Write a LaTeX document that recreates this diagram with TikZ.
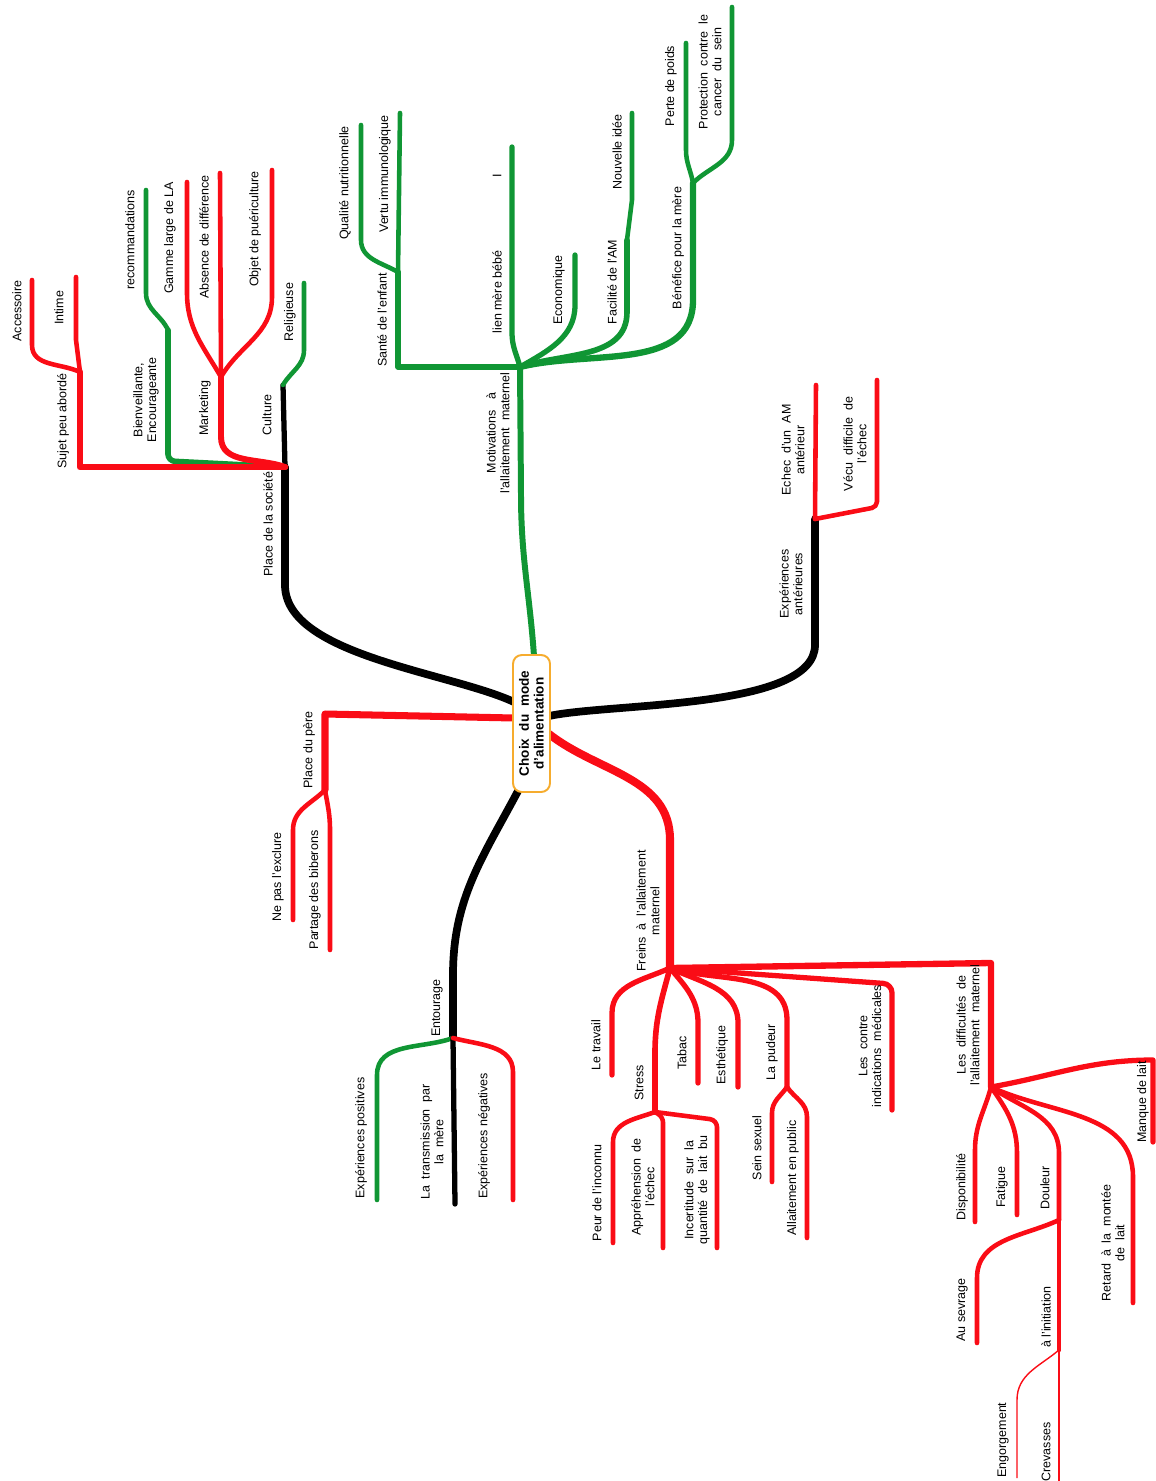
\documentclass[tikz,border=0pt]{standalone}
\usepackage{fontspec}
\setmainfont{Liberation Sans}
\usetikzlibrary{positioning}
\definecolor{myred}{RGB}{250,12,22}
\definecolor{mygreen}{RGB}{16,150,52}
\definecolor{myorange}{RGB}{246,172,46}
\tikzset{
    centre/.style = {rectangle, rounded corners=5pt, draw=myorange, line width=1.1pt, fill=white, rotate=90, minimum width=2.74cm, minimum height=0.74cm, align=center, inner sep=1pt, font=\bfseries\fontsize{7.7}{8.4}\selectfont},
    lbl/.style = {rotate=90, align=center, inner sep=0pt, font=\fontsize{7.1}{7.8}\selectfont},
    edger/.style = {draw=myred, line width=#1, line join=round, line cap=round},
    edger/.default = 2.6pt,
    edgeg/.style = {draw=mygreen, line width=#1, line join=round, line cap=round},
    edgeg/.default = 2.6pt,
    edgek/.style = {draw=black, line width=#1, line join=round, line cap=round},
    edgek/.default = 2.6pt,
    edget/.style = {draw=myred, line width=0.8pt}, % thin
}
\begin{document}
\begin{tikzpicture}[x=0.02cm, y=-0.02cm]
\useasboundingbox (0,0) rectangle (1156,1481);

% points on the box
\coordinate (mot-0) at (534,656);
\coordinate (soc-0) at (514,702);
\coordinate (pere-0) at (514,718);
\coordinate (ant-0) at (549,716);
\coordinate (frein-0) at (549,734);
\coordinate (ent-0) at (518,791);

% motivations
\coordinate (mot-a) at (521,495);
\coordinate (mot-h) at (520,367);
\coordinate (sante-a) at (398,367);
\coordinate (sante-h) at (398,272);
\coordinate (qual-a) at (361,240);
\coordinate (qual-b) at (361,125);
\coordinate (vertu-b) at (400,113);
\coordinate (lien-a) at (512,333);
\coordinate (lien-b) at (512,147);
\coordinate (eco-a) at (575,305);
\coordinate (eco-b) at (575,255);
\coordinate (fac-a) at (627,312);
\coordinate (fac-b) at (627,240);
\coordinate (fac-c) at (632,200);
\coordinate (fac-d) at (632,113);
\coordinate (ben-a) at (693,300);
\coordinate (ben-h) at (693,183);
\coordinate (perte-a) at (686,150);
\coordinate (perte-b) at (686,43);
\coordinate (prot-a) at (732,140);
\coordinate (prot-b) at (732,7);

\draw[edgeg=3.4pt] (mot-0) to[out=94,in=-90] (mot-a) -- (mot-h);
\draw[edgeg=3.2pt] (mot-h) -- (sante-a) -- (sante-h);
\draw[edgeg] (sante-h) to[out=150,in=-90] (qual-a) -- (qual-b);
\draw[edgeg] (sante-h) -- (vertu-b);
\draw[edgeg=3pt] (mot-h) to[out=105,in=-90] (lien-a) -- (lien-b);
\draw[edgeg=3pt] (mot-h) to[out=30,in=-90] (eco-a) -- (eco-b);
\draw[edgeg=3.2pt] (mot-h) to[out=18,in=-90] (fac-a) -- (fac-b);
\draw[edgeg] (fac-b) -- (fac-c) -- (fac-d);
\draw[edgeg=3.6pt] (mot-h) to[out=14,in=-90] (ben-a) -- (ben-h);
\draw[edgeg] (ben-h) to[out=100,in=-90] (perte-a) -- (perte-b);
\draw[edgeg] (ben-h) to[out=45,in=-90] (prot-a) -- (prot-b);

% place de la societe
\coordinate (soc-a) at (285,585);
\coordinate (soc-h) at (285,467);
\coordinate (cult-h) at (283,385);
\coordinate (relig-a) at (304,350);
\coordinate (relig-b) at (304,283);
\coordinate (mark-a) at (221,437);
\coordinate (mark-h) at (221,377);
\coordinate (gamme-a) at (187,293);
\coordinate (gamme-b) at (187,182);
\coordinate (abs-b) at (220,173);
\coordinate (objet-a) at (272,297);
\coordinate (objet-b) at (272,170);
\coordinate (bien-a) at (168,461);
\coordinate (bien-h) at (168,330);
\coordinate (recom-a) at (146,293);
\coordinate (recom-b) at (146,190);
\coordinate (sujet-a) at (80,467);
\coordinate (sujet-h) at (80,372);
\coordinate (acc-a) at (32,345);
\coordinate (acc-b) at (32,280);
\coordinate (intime-a) at (76,340);
\coordinate (intime-b) at (76,277);

\draw[edgek=4.4pt] (soc-0) to[out=155,in=-90,looseness=0.7] (soc-a) -- (soc-h);
\draw[edgek=3pt] (soc-h) -- (cult-h);
\draw[edgeg] (cult-h) to[out=60,in=-90] (relig-a) -- (relig-b);
\draw[edgeg=3.2pt, rounded corners=4pt] (soc-h) -- (bien-a) -- (bien-h);
\draw[edgeg] (bien-h) to[out=115,in=-90] (recom-a) -- (recom-b);
\draw[edger=3.4pt] (soc-h) to[out=160,in=-90] (mark-a) -- (mark-h);
\draw[edger] (mark-h) to[out=120,in=-90] (gamme-a) -- (gamme-b);
\draw[edger] (mark-h) -- (abs-b);
\draw[edger] (mark-h) to[out=60,in=-90] (objet-a) -- (objet-b);
\draw[edger=3.8pt] (soc-h) -- (sujet-a) -- (sujet-h);
\draw[edger] (sujet-h) to[out=155,in=-90] (acc-a) -- (acc-b);
\draw[edger] (sujet-h) -- (intime-a) -- (intime-b);

% experiences anterieures
\coordinate (ant-a) at (815,645);
\coordinate (ant-h) at (815,519);
\coordinate (echec-b) at (816,385);
\coordinate (vecu-a) at (877,507);
\coordinate (vecu-b) at (877,380);

\draw[edgek=4.4pt] (ant-0) to[out=12,in=-90,looseness=0.6] (ant-a) -- (ant-h);
\draw[edger] (ant-h) -- (echec-b);
\draw[edger, rounded corners=3pt] (ant-h) -- (vecu-a) -- (vecu-b);

% place du pere
\coordinate (pere-a) at (325,714);
\coordinate (pere-h) at (325,790);
\coordinate (excl-a) at (293,830);
\coordinate (excl-b) at (293,920);
\coordinate (bib-a) at (330,830);
\coordinate (bib-b) at (330,950);

\draw[edger=4pt] (pere-0) -- (pere-a) -- (pere-h);
\draw[edger] (pere-h) to[out=-135,in=90] (excl-a) -- (excl-b);
\draw[edger] (pere-h) to[out=-80,in=90] (bib-a) -- (bib-b);

% entourage
\coordinate (ent-a) at (453,975);
\coordinate (ent-h) at (453,1038);
\coordinate (pos-a) at (377,1075);
\coordinate (pos-b) at (377,1200);
\coordinate (transm-b) at (455,1204);
\coordinate (neg-a) at (513,1072);
\coordinate (neg-b) at (513,1200);

\draw[edgek=4.4pt] (ent-0) to[out=-118,in=90] (ent-a) -- (ent-h);
\draw[edgeg] (ent-h) to[out=200,in=90] (pos-a) -- (pos-b);
\draw[edgek=3pt] (ent-h) -- (transm-b);
\draw[edger] (ent-h) to[out=-15,in=90] (neg-a) -- (neg-b);

% freins
\coordinate (frein-a) at (670,840);
\coordinate (frein-h) at (670,968);
\coordinate (trav-a) at (612,1013);
\coordinate (trav-b) at (612,1075);
\coordinate (stress-a) at (655,1053);
\coordinate (stress-h) at (655,1112);
\coordinate (peur-a) at (613,1142);
\coordinate (peur-b) at (613,1243);
\coordinate (appre-a) at (663,1117);
\coordinate (appre-b) at (663,1248);
\coordinate (incert-a) at (717,1120);
\coordinate (incert-b) at (717,1248);
\coordinate (tabac-a) at (698,1023);
\coordinate (tabac-b) at (698,1083);
\coordinate (esth-a) at (738,1023);
\coordinate (esth-b) at (738,1087);
\coordinate (pud-a) at (787,1020);
\coordinate (pud-h) at (787,1087);
\coordinate (sein-a) at (772,1113);
\coordinate (sein-b) at (772,1182);
\coordinate (pub-a) at (807,1117);
\coordinate (pub-b) at (807,1238);
\coordinate (contre-a) at (892,984);
\coordinate (contre-b) at (892,1110);
\coordinate (diff-a) at (991,963);
\coordinate (diff-h) at (991,1087);

\draw[edger=4.6pt] (frein-0) to[out=-38,in=90] (frein-a) -- (frein-h);
\draw[edger=3pt] (frein-h) to[out=205,in=90] (trav-a) -- (trav-b);
\draw[edger=3.2pt] (frein-h) to[out=-105,in=90] (stress-a) -- (stress-h);
\draw[edger] (stress-h) to[out=200,in=90] (peur-a) -- (peur-b);
\draw[edger, rounded corners=3pt] (stress-h) -- (appre-a) -- (appre-b);
\draw[edger, rounded corners=4pt] (stress-h) -- (incert-a) -- (incert-b);
\draw[edger=3pt] (frein-h) to[out=-50,in=90] (tabac-a) -- (tabac-b);
\draw[edger=3pt] (frein-h) to[out=-25,in=90] (esth-a) -- (esth-b);
\draw[edger=3pt] (frein-h) to[out=-17,in=90] (pud-a) -- (pud-h);
\draw[edger] (pud-h) to[out=-125,in=90] (sein-a) -- (sein-b);
\draw[edger] (pud-h) to[out=-55,in=90] (pub-a) -- (pub-b);
\draw[edger=3pt, rounded corners=5pt] (frein-h) -- (contre-a) -- (contre-b);
\draw[edger=3.6pt] (frein-h) -- (diff-a) -- (diff-h);

% difficultes
\coordinate (manque-a) at (1153,1060);
\coordinate (manque-b) at (1153,1142);
\coordinate (dispo-a) at (975,1150);
\coordinate (dispo-b) at (975,1222);
\coordinate (fat-a) at (1017,1153);
\coordinate (fat-b) at (1017,1215);
\coordinate (doul-a) at (1059,1153);
\coordinate (doul-h) at (1059,1220);
\coordinate (sevr-a) at (977,1278);
\coordinate (sevr-b) at (977,1343);
\coordinate (init-h) at (1059,1350);
\coordinate (eng-a) at (1017,1400);
\coordinate (eng-b) at (1017,1478);
\coordinate (crev-b) at (1059,1481);
\coordinate (ret-a) at (1133,1177);
\coordinate (ret-b) at (1133,1303);

\draw[edger=3pt] (diff-h) to[out=10,in=180] (manque-a) -- (manque-b);
\draw[edger] (diff-h) to[out=-105,in=90] (dispo-a) -- (dispo-b);
\draw[edger] (diff-h) to[out=-55,in=90] (fat-a) -- (fat-b);
\draw[edger] (diff-h) to[out=-35,in=90] (doul-a) -- (doul-h);
\draw[edger] (doul-h) to[out=205,in=90] (sevr-a) -- (sevr-b);
\draw[edger] (doul-h) -- (init-h);
\draw[edget] (init-h) to[out=220,in=90] (eng-a) -- (eng-b);
\draw[edget] (init-h) -- (crev-b);
\draw[edger] (diff-h) to[out=-25,in=90] (ret-a) -- (ret-b);

% labels
\node[lbl] (motiv) at (498,433) {Motivations\ \ \ à\\l'allaitement\ \ maternel};
\node[lbl] (sante) at (382,320) {Santé de l'enfant};
\node[lbl] (qualite) at (345,183) {Qualité nutritionnelle};
\node[lbl] (vertu) at (385,174) {Vertu immunologique};
\node[lbl] (lien) at (497,292) {lien mère bébé};
\node[lbl] (imark) at (497,176) {I};
\node[lbl] (eco) at (559,290) {Economique};
\node[lbl] (facil) at (612,282) {Facilité de l'AM};
\node[lbl] (nouv) at (617,152) {Nouvelle idée};
\node[lbl] (benef) at (678,248) {Bénéfice pour la mère};
\node[lbl] (perte) at (671,86) {Perte de poids};
\node[lbl] (protec) at (710,72) {Protection\ \ contre\ \ le\\cancer\ \ du\ \ sein};

\node[lbl] (societe) at (268,524) {Place de la société};
\node[lbl] (culture) at (267,415) {Culture};
\node[lbl] (relig) at (290,312) {Religieuse};
\node[lbl] (marketing) at (205,408) {Marketing};
\node[lbl] (gamme) at (170,238) {Gamme large de LA};
\node[lbl] (absence) at (204,237) {Absence de différence};
\node[lbl] (objet) at (255,229) {Objet de puériculture};
\node[lbl] (bienv) at (146,400) {Bienveillante,\\Encourageante};
\node[lbl] (recom) at (130,240) {recommandations};
\node[lbl] (sujet) at (63,421) {Sujet peu abordé};
\node[lbl] (access) at (17,311) {Accessoire};
\node[lbl] (intime) at (59,308) {Intime};

\node[lbl] (exper) at (791,584) {Expériences\\antérieures};
\node[lbl] (echec) at (793,450) {Echec\ \ d'un\ \ AM\\antérieur};
\node[lbl] (vecu) at (855,444) {Vécu\ \ difficile\ \ de\\l'échec};

\node[lbl] (pere) at (309,750) {Place du père};
\node[lbl] (exclure) at (278,877) {Ne pas l'exclure};
\node[lbl] (biberon) at (315,890) {Partage des biberons};

\node[lbl] (entourage) at (437,1008) {Entourage};
\node[lbl] (exppos) at (361,1138) {Expériences positives};
\node[lbl] (transm) at (432,1142) {La\ \ transmission\ \ par\\la\ \ mère};
\node[lbl] (expneg) at (484,1136) {Expériences négatives};

\node[lbl] (freins) at (648,911) {Freins\ \ à\ \ l'allaitement\\maternel};
\node[lbl] (travail) at (596,1045) {Le travail};
\node[lbl] (stress) at (639,1083) {Stress};
\node[lbl] (peur) at (597,1193) {Peur de l'inconnu};
\node[lbl] (appre) at (643,1187) {Appréhension\ \ de\\l'échec};
\node[lbl] (incert) at (697,1190) {Incertitude\ \ sur\ \ la\\quantité\ \ de\ \ lait\ \ bu};
\node[lbl] (tabac) at (682,1053) {Tabac};
\node[lbl] (esthet) at (722,1055) {Esthétique};
\node[lbl] (pudeur) at (772,1052) {La pudeur};
\node[lbl] (sein) at (757,1148) {Sein sexuel};
\node[lbl] (public) at (793,1178) {Allaitement en public};
\node[lbl] (contre) at (870,1046) {Les\ \ contre\\indications\ \ médicales};
\node[lbl] (diffic) at (968,1025) {Les\ \ difficultés\ \ de\\l'allaitement\ \ maternel};
\node[lbl] (manque) at (1143,1102) {Manque de lait};
\node[lbl] (dispo) at (962,1187) {Disponibilité};
\node[lbl] (fatigue) at (1002,1187) {Fatigue};
\node[lbl] (douleur) at (1045,1188) {Douleur};
\node[lbl] (sevrage) at (962,1310) {Au sevrage};
\node[lbl] (initiation) at (1046,1317) {à l'initiation};
\node[lbl] (engorg) at (1003,1440) {Engorgement};
\node[lbl] (crev) at (1046,1452) {Crevasses};
\node[lbl] (retard) at (1113,1243) {Retard\ \ à\ \ la\ \ montée\\de\ \ lait};

\node[centre] (choix) at (531.5,723.5) {Choix\ \ du\ \ mode\\d'alimentation};

\end{tikzpicture}
\end{document}
